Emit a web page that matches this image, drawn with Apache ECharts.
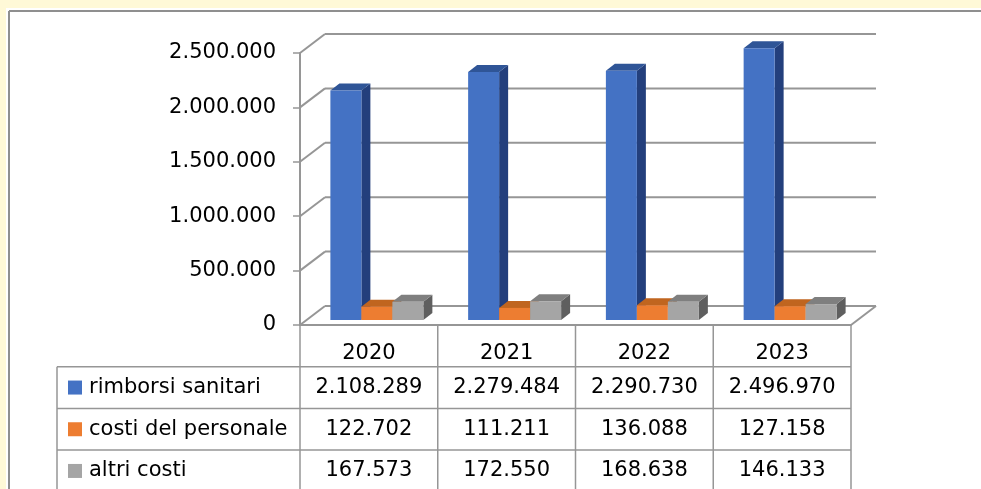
<!DOCTYPE html>
<html>
<head>
<meta charset="utf-8">
<script src="https://cdn.jsdelivr.net/npm/echarts@6/dist/echarts.min.js"></script>
<style>
  html, body { margin: 0; padding: 0; background: #fff9d7; overflow: hidden; }
  #chart { width: 981px; height: 489px; }
</style>
</head>
<body>
<div id="chart"></div>
<script>
// dati
var years = ['2020', '2021', '2022', '2023'];
var seriesNames = ['rimborsi sanitari', 'costi del personale', 'altri costi'];
var rimborsiSanitari = [2108289, 2279484, 2290730, 2496970];
var costiPersonale = [122702, 111211, 136088, 127158];
var altriCosti = [167573, 172550, 168638, 146133];
var yTicks = [0, 500000, 1000000, 1500000, 2000000, 2500000];

var allSeries = [rimborsiSanitari, costiPersonale, altriCosti];

// stile 3d
var FONT = 'DejaVu Sans';
var FS = 21;
var LINE = '#969696';
var WALL_DX = 25, WALL_DY = -19;   // profondita' pareti
var BAR_DX = 9, BAR_DY = -7;       // profondita' barre
var BAR_SHIFT_X = 8, BAR_SHIFT_Y = -5;
var BAR_FRAC = 0.225;
var ROW_H = 41.7;
var TABLE_LEFT = 57;
// [fronte, sopra, lato]
var faces = [
  ['#4472c4', '#2f5597', '#233f7c'],
  ['#ed7d31', '#c0651f', '#a85519'],
  ['#a5a5a5', '#7f7f7f', '#5f5f5f']
];

function fmt(v) {
  return String(v).replace(/\B(?=(\d{3})+(?!\d))/g, '.');
}

function bar3d(s) {
  return function (params, api) {
    var i = api.value(0), v = api.value(1);
    var base = api.coord([i, 0]);
    var top = api.coord([i, v]);
    var band = api.size([1, 0])[0];
    var w = band * BAR_FRAC;
    var x0 = base[0] - 1.5 * w + s * w + BAR_SHIFT_X;
    var x1 = x0 + w;
    var yb = base[1] + BAR_SHIFT_Y;
    var yt = top[1] + BAR_SHIFT_Y;
    var c = faces[s];
    return {
      type: 'group',
      children: [
        { type: 'polygon', shape: { points: [[x1, yt], [x1 + BAR_DX, yt + BAR_DY], [x1 + BAR_DX, yb + BAR_DY], [x1, yb]] }, style: { fill: c[2] } },
        { type: 'polygon', shape: { points: [[x0, yt], [x0 + BAR_DX, yt + BAR_DY], [x1 + BAR_DX, yt + BAR_DY], [x1, yt]] }, style: { fill: c[1] } },
        { type: 'rect', shape: { x: x0, y: yt, width: w, height: yb - yt }, style: { fill: c[0] } }
      ]
    };
  };
}

function renderWall(params, api) {
  var cs = params.coordSys;
  var y = api.coord([0, api.value(1)])[1];
  var xl = cs.x, xr = cs.x + cs.width;
  var st = { stroke: LINE, lineWidth: 2 };
  var ch = [
    { type: 'line', shape: { x1: xl, y1: y, x2: xl + WALL_DX, y2: y + WALL_DY }, style: st },
    { type: 'line', shape: { x1: xl + WALL_DX, y1: y + WALL_DY, x2: xr + WALL_DX, y2: y + WALL_DY }, style: st }
  ];
  if (api.value(1) === 0) {
    ch.push({ type: 'line', shape: { x1: xr, y1: y, x2: xr + WALL_DX, y2: y + WALL_DY }, style: st });
  }
  return { type: 'group', children: ch };
}

function renderTable(params, api) {
  var i = api.value(0);
  var band = api.size([1, 0])[0];
  var p = api.coord([i, 0]);
  var cx = p[0], y0 = p[1];
  var left = cx - band / 2, right = cx + band / 2;
  var bottom = y0 + ROW_H * 4 + 4;
  var st = { stroke: LINE, lineWidth: 1.5 };
  var ch = [];
  ch.push({ type: 'line', shape: { x1: left, y1: y0, x2: left, y2: bottom }, style: st });
  if (i === years.length - 1) {
    ch.push({ type: 'line', shape: { x1: right, y1: y0, x2: right, y2: bottom }, style: st });
  }
  for (var r = 0; r < allSeries.length; r++) {
    var ry = y0 + ROW_H * (r + 1);
    ch.push({ type: 'line', shape: { x1: left, y1: ry, x2: right, y2: ry }, style: st });
    ch.push({ type: 'text', style: { text: fmt(allSeries[r][i]), x: cx, y: ry + ROW_H / 2, align: 'center', verticalAlign: 'middle', fontSize: FS, fontFamily: FONT, fill: '#000' } });
    if (i === 0) {
      ch.push({ type: 'line', shape: { x1: TABLE_LEFT, y1: ry, x2: left, y2: ry }, style: st });
      ch.push({ type: 'rect', shape: { x: TABLE_LEFT + 11, y: ry + ROW_H / 2 - 7, width: 14, height: 14 }, style: { fill: faces[r][0] } });
      ch.push({ type: 'text', style: { text: seriesNames[r], x: TABLE_LEFT + 32, y: ry + ROW_H / 2, align: 'left', verticalAlign: 'middle', fontSize: FS, fontFamily: FONT, fill: '#000' } });
    }
  }
  if (i === 0) {
    ch.push({ type: 'line', shape: { x1: TABLE_LEFT, y1: y0 + ROW_H, x2: TABLE_LEFT, y2: bottom }, style: st });
  }
  return { type: 'group', children: ch };
}

var chart = echarts.init(document.getElementById('chart'));

var option = {
  backgroundColor: '#fff9d7',
  animation: false,
  textStyle: { fontFamily: FONT },
  graphic: [
    { type: 'rect', z: -10, shape: { x: 6, y: 8, width: 1200, height: 600 }, style: { fill: '#ffffff' } },
    { type: 'line', z: -9, shape: { x1: 9, y1: 11, x2: 1200, y2: 11 }, style: { stroke: '#8f8f8f', lineWidth: 2 } },
    { type: 'line', z: -9, shape: { x1: 9, y1: 11, x2: 9, y2: 600 }, style: { stroke: '#8f8f8f', lineWidth: 2 } }
  ],
  grid: { left: 300, right: 130, top: 53, bottom: 164 },
  xAxis: {
    type: 'category',
    data: years,
    axisLine: { lineStyle: { color: LINE, width: 2 } },
    axisTick: { show: false },
    axisLabel: { color: '#000', fontSize: FS, fontFamily: FONT, margin: 18 }
  },
  yAxis: {
    type: 'value',
    min: 0,
    max: 2500000,
    interval: 500000,
    axisLine: { show: true, lineStyle: { color: LINE, width: 2 } },
    axisTick: { show: true, length: 7, lineStyle: { color: LINE, width: 1.5 } },
    splitLine: { show: false },
    axisLabel: { color: '#000', fontSize: FS, fontFamily: FONT, margin: 24, formatter: fmt }
  },
  series: [
    {
      type: 'custom',
      name: 'pareti',
      z: 1,
      renderItem: renderWall,
      data: yTicks.map(function (t) { return [0, t]; })
    },
    {
      type: 'custom',
      name: 'tabella',
      z: 2,
      renderItem: renderTable,
      data: years.map(function (y, i) { return [i, 0]; })
    }
  ].concat(allSeries.map(function (vals, s) {
    return {
      type: 'custom',
      name: seriesNames[s],
      z: 3,
      renderItem: bar3d(s),
      data: vals.map(function (v, i) { return [i, v]; })
    };
  }))
};

chart.setOption(option);
</script>
</body>
</html>
